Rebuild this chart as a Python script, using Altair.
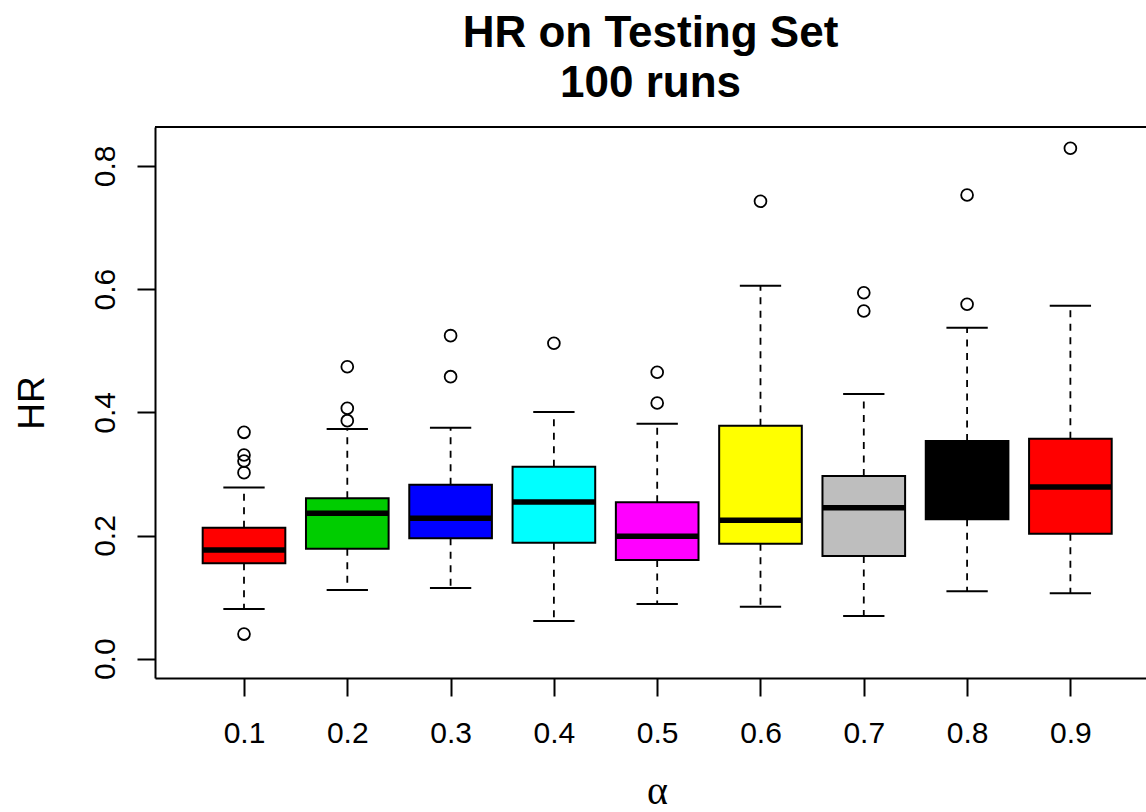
import altair as alt
import pandas as pd

# Box-plot summary of HR over 100 runs for each alpha
alpha = [0.1, 0.2, 0.3, 0.4, 0.5, 0.6, 0.7, 0.8, 0.9]
lower_whisker = [0.0807, 0.1115, 0.1148, 0.0612, 0.0888, 0.0844, 0.0693, 0.1094, 0.1061]
q1 = [0.1548, 0.1786, 0.1954, 0.1883, 0.1602, 0.1867, 0.1667, 0.2263, 0.2029]
median = [0.1765, 0.2360, 0.2280, 0.2544, 0.1987, 0.2247, 0.2451, 0.2320, 0.2787]
q3 = [0.2127, 0.2604, 0.2825, 0.3117, 0.2539, 0.3780, 0.2966, 0.3534, 0.3572]
upper_whisker = [0.2780, 0.3729, 0.3750, 0.4005, 0.3815, 0.6055, 0.4297, 0.5374, 0.5730]
box_colors = ["#FF0000", "#00CD00", "#0000FF", "#00FFFF", "#FF00FF",
              "#FFFF00", "#BEBEBE", "#000000", "#FF0000"]

# Outlying runs
outlier_alpha = [0.1, 0.1, 0.1, 0.1, 0.1,
                 0.2, 0.2, 0.2,
                 0.3, 0.3,
                 0.4,
                 0.5, 0.5,
                 0.6,
                 0.7, 0.7,
                 0.8, 0.8,
                 0.9]
outlier_hr = [0.040, 0.3675, 0.3307, 0.321, 0.302,
              0.474, 0.4065, 0.3864,
              0.5244, 0.4578,
              0.512,
              0.465, 0.415,
              0.7425,
              0.594, 0.5644,
              0.5753, 0.7528,
              0.8286]

group_labels = [f"{a:.1f}" for a in alpha]
stats = pd.DataFrame({
    "alpha": alpha,
    "group": group_labels,
    "lo": lower_whisker,
    "q1": q1,
    "med": median,
    "q3": q3,
    "hi": upper_whisker,
})
outliers = pd.DataFrame({"alpha": outlier_alpha, "hr": outlier_hr})

W, H = 991, 551
FONT = "Liberation Sans"

x_scale = alt.Scale(domain=[0.01384, 0.9732], nice=False, zero=False)
y_scale = alt.Scale(domain=[-0.0313, 0.8631], nice=False, zero=False)

x_axis = alt.Axis(
    values=alpha, format=".1f", title="α",
    grid=False, tickSize=18, tickWidth=2, tickColor="black",
    domainWidth=2, domainColor="black",
    labelFont=FONT, labelFontSize=30, labelColor="black",
    labelBaseline="alphabetic", labelPadding=46, labelOverlap=False,
    labelFlush=False,
    titleFont="Liberation Serif", titleFontSize=40, titleFontWeight="normal",
    titleColor="black", titleX=502, titleY=125, titleAlign="center",
    titleBaseline="alphabetic",
)
y_axis = alt.Axis(
    values=[0.0, 0.2, 0.4, 0.6, 0.8], format=".1f", title="HR",
    grid=False, tickSize=18, tickWidth=2, tickColor="black",
    domainWidth=2, domainColor="black",
    labelFont=FONT, labelFontSize=30, labelColor="black",
    labelAngle=270, labelAlign="center", labelBaseline="alphabetic",
    labelPadding=23, labelOverlap=False, labelFlush=False,
    titleFont=FONT, titleFontSize=37, titleFontWeight="normal",
    titleColor="black", titleAngle=270, titleX=-112, titleY=H / 2,
    titleAlign="center", titleBaseline="alphabetic",
)

base = alt.Chart(stats).transform_calculate(
    box_l="datum.alpha - 0.04",
    box_r="datum.alpha + 0.04",
    cap_l="datum.alpha - 0.02",
    cap_r="datum.alpha + 0.02",
)

xq = alt.X("alpha:Q", scale=x_scale, axis=x_axis)
dash = [7, 6.5]

whisker_up = base.mark_rule(color="black", strokeWidth=1.8, strokeDash=dash).encode(
    x=xq, y=alt.Y("q3:Q", scale=y_scale, axis=y_axis), y2="hi:Q"
)
whisker_down = base.mark_rule(color="black", strokeWidth=1.8, strokeDash=dash).encode(
    x=xq, y=alt.Y("q1:Q", scale=y_scale), y2="lo:Q"
)
cap_up = base.mark_rule(color="black", strokeWidth=2).encode(
    x=alt.X("cap_l:Q", scale=x_scale), x2="cap_r:Q", y=alt.Y("hi:Q", scale=y_scale)
)
cap_down = base.mark_rule(color="black", strokeWidth=2).encode(
    x=alt.X("cap_l:Q", scale=x_scale), x2="cap_r:Q", y=alt.Y("lo:Q", scale=y_scale)
)
boxes = base.mark_rect(stroke="black", strokeWidth=2).encode(
    x=alt.X("box_l:Q", scale=x_scale), x2="box_r:Q",
    y=alt.Y("q1:Q", scale=y_scale), y2="q3:Q",
    fill=alt.Fill("group:N", scale=alt.Scale(domain=group_labels, range=box_colors), legend=None),
)
medians = base.mark_rule(color="black", strokeWidth=5.5).encode(
    x=alt.X("box_l:Q", scale=x_scale), x2="box_r:Q", y=alt.Y("med:Q", scale=y_scale)
)
points = alt.Chart(outliers).mark_point(
    shape="circle", filled=False, size=140, strokeWidth=1.8, color="black", opacity=1
).encode(
    x=alt.X("alpha:Q", scale=x_scale), y=alt.Y("hr:Q", scale=y_scale)
)
# top edge of the plot frame
frame_top = alt.Chart(stats).mark_rule(color="black", strokeWidth=2).encode(
    x=alt.value(0), x2=alt.value(W), y=alt.value(0)
)

chart = alt.layer(
    whisker_up, whisker_down, cap_up, cap_down, boxes, medians, points, frame_top
).properties(
    width=W, height=H,
    title=alt.TitleParams(
        text=["HR on Testing Set", "100 runs"], font=FONT, fontSize=44,
        fontWeight="bold", color="black", anchor="middle",
        baseline="alphabetic", lineHeight=50, offset=-15,
    ),
    autosize=alt.AutoSizeParams(type="none"),
    padding={"left": 155, "top": 127, "right": 0, "bottom": 134},
    background="white",
).configure_view(stroke=None)

chart.save("out.html", embed_options={"renderer": "svg", "actions": False})
